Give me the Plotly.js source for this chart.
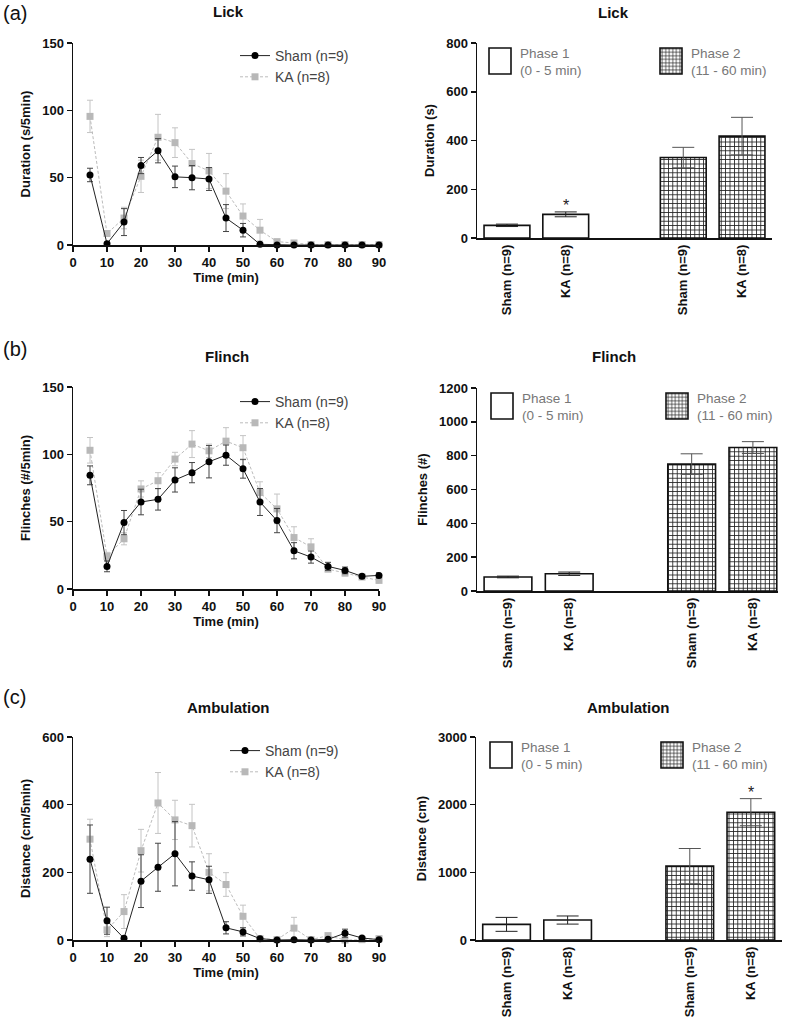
<!DOCTYPE html>
<html>
<head>
<meta charset="utf-8">
<script src="https://cdn.plot.ly/plotly-3.0.1.min.js"></script>
<style>
  body { margin: 0; background: #fff; }
  #fig { width: 787px; height: 1029px; }
</style>
</head>
<body>
<div id="fig"></div>
<script>
// time bins (min)
const time = [5, 10, 15, 20, 25, 30, 35, 40, 45, 50, 55, 60, 65, 70, 75, 80, 85, 90];

// (a) lick duration, s/5min (mean, sem)
const lickSham = [52, 1, 17, 59, 70, 50.6, 50, 49, 20, 11, 0.5, 0, 0, 0, 0, 0, 0, 0];
const lickShamErr = [5, 1, 10, 6, 9, 8, 9, 8.5, 10, 5, 0.5, 0, 0, 0, 0, 0, 0, 0];
const lickKA = [95.5, 8.5, 20, 51, 80, 76, 60.5, 55, 40, 21.5, 11, 2.5, 1.5, 0.3, 0.3, 0.3, 0.3, 0.3];
const lickKAErr = [12, 2, 8, 12, 17, 11, 10.5, 13, 13, 9, 8, 1, 1, 0, 0, 0, 0, 0];

// (b) flinches, #/5min
const flinchSham = [84.4, 16.8, 49.3, 64.6, 66.6, 81, 86.4, 94.5, 99.4, 89.3, 64.6, 50.8, 28.4, 23.7, 16.8, 13.8, 9.4, 10.1];
const flinchShamErr = [7, 4, 9, 9.5, 8, 9, 7.5, 12, 7.5, 7, 10, 9, 6, 4.5, 3, 2.5, 1, 2];
const flinchKA = [103, 24.2, 37.3, 74.3, 80.4, 96.5, 107.6, 102.6, 109.8, 104.9, 71.6, 59.5, 38.2, 31.3, 14.8, 11.8, 8.9, 6.4];
const flinchKAErr = [9.5, 3, 4.5, 6, 6, 5, 10, 5, 10, 9, 8, 11, 8, 6, 2, 2, 1, 2];

// (c) ambulation, cm/5min
const ambSham = [239, 57, 5, 174, 215, 255, 189, 178, 36, 24, 4, 0, 1, 0, 2, 20, 6, 1];
const ambShamErr = [101, 40, 5, 78, 71, 95, 42, 40, 18, 12, 3, 0, 1, 0, 2, 12, 3, 1];
const ambKA = [298, 30, 84, 264, 405, 355, 338, 200, 164, 70, 4, 1, 35, 1, 13, 0, 1, 4];
const ambKAErr = [59, 20, 50, 63, 90, 58, 63, 55, 35, 33, 3, 1, 32, 1, 6, 0, 1, 2];

// phase totals (bar charts)
const groupLabels = ['Sham (n=9)', 'KA (n=8)', 'Sham (n=9)', 'KA (n=8)'];
const groupPos = [0, 1, 3, 4];
const lickP1 = [52, 97], lickP1Err = [5, 10];
const lickP2 = [330, 418], lickP2Err = [42, 77];
const flinchP1 = [83, 102], flinchP1Err = [5, 10];
const flinchP2 = [750, 848], flinchP2Err = [61, 35];
const ambP1 = [231, 295], ambP1Err = [103, 60];
const ambP2 = [1092, 1889], ambP2Err = [260, 200];

const FONT = 'Liberation Sans, Arial, sans-serif';

function shamTrace(y, err, ax, leg) {
  return {
    x: time, y: y, xaxis: 'x' + ax, yaxis: 'y' + ax, legend: leg,
    name: 'Sham (n=9)', type: 'scatter', mode: 'lines+markers', cliponaxis: false,
    line: { color: '#222', width: 1 },
    marker: { symbol: 'circle', size: 7, color: '#000' },
    error_y: { type: 'data', array: err, color: '#444', thickness: 1, width: 3 }
  };
}

function kaTrace(y, err, ax, leg) {
  return {
    x: time, y: y, xaxis: 'x' + ax, yaxis: 'y' + ax, legend: leg,
    name: 'KA (n=8)', type: 'scatter', mode: 'lines+markers', cliponaxis: false,
    line: { color: '#bcbcbc', width: 1, dash: '3px,2px' },
    marker: { symbol: 'square', size: 7, color: '#b8b8b8' },
    error_y: { type: 'data', array: err, color: '#c4c4c4', thickness: 1, width: 3 }
  };
}

function phaseTraces(p1, p1Err, p2, p2Err, ax, leg1, leg2) {
  return [{
    x: groupPos.slice(0, 2), y: p1, xaxis: 'x' + ax, yaxis: 'y' + ax, legend: leg1,
    name: 'Phase 1<br>(0 - 5 min)', type: 'bar', width: 0.78,
    marker: { color: '#fff', line: { color: '#111', width: 1.6 } },
    error_y: { type: 'data', array: p1Err, color: '#222', thickness: 1, width: 11 }
  }, {
    x: groupPos.slice(2), y: p2, xaxis: 'x' + ax, yaxis: 'y' + ax, legend: leg2,
    name: 'Phase 2<br>(11 - 60 min)', type: 'bar', width: 0.78,
    marker: {
      color: '#fff', line: { color: '#111', width: 1.6 },
      pattern: { shape: '+', size: 4.4, solidity: 0.35, fgcolor: '#222', bgcolor: '#fff' }
    },
    error_y: { type: 'data', array: p2Err, color: '#555', thickness: 1, width: 11 }
  }];
}

const data = [
  kaTrace(lickKA, lickKAErr, '', 'legend'),
  shamTrace(lickSham, lickShamErr, '', 'legend'),
  ...phaseTraces(lickP1, lickP1Err, lickP2, lickP2Err, '2', 'legend2', 'legend7'),
  kaTrace(flinchKA, flinchKAErr, '3', 'legend3'),
  shamTrace(flinchSham, flinchShamErr, '3', 'legend3'),
  ...phaseTraces(flinchP1, flinchP1Err, flinchP2, flinchP2Err, '4', 'legend4', 'legend8'),
  kaTrace(ambKA, ambKAErr, '5', 'legend5'),
  shamTrace(ambSham, ambShamErr, '5', 'legend5'),
  ...phaseTraces(ambP1, ambP1Err, ambP2, ambP2Err, '6', 'legend6', 'legend9')
];

const tickFont = { family: FONT, size: 13, color: '#111', weight: 'bold' };
const titleFont = { family: FONT, size: 13, color: '#111', weight: 'bold' };

function timeAxis(domain, anchor) {
  return {
    domain: domain, anchor: anchor, range: [0, 90], dtick: 10, tick0: 0,
    showgrid: false, zeroline: false, showline: true, linecolor: '#111', linewidth: 1.5,
    ticks: 'outside', ticklen: 5, tickwidth: 1.5, tickcolor: '#111', tickfont: tickFont,
    title: { text: 'Time (min)', font: titleFont, standoff: 4 }
  };
}

function valueAxis(domain, anchor, range, dtick, label) {
  return {
    domain: domain, anchor: anchor, range: range, dtick: dtick,
    showgrid: false, zeroline: false, showline: true, linecolor: '#111', linewidth: 1.5,
    ticks: 'outside', ticklen: 5, tickwidth: 1.5, tickcolor: '#111', tickfont: tickFont,
    title: { text: label, font: titleFont, standoff: 8 }
  };
}

function groupAxis(domain, anchor, range) {
  return {
    domain: domain, anchor: anchor, range: range,
    tickmode: 'array', tickvals: groupPos, ticktext: groupLabels, tickangle: -90,
    showgrid: false, zeroline: false, showline: true, linecolor: '#111', linewidth: 1.5,
    ticks: '', tickfont: tickFont
  };
}

function lineLegend(x, y) {
  return {
    x: x, y: y, xanchor: 'left', yanchor: 'top', bgcolor: 'rgba(0,0,0,0)',
    traceorder: 'reversed', tracegroupgap: 0,
    font: { family: FONT, size: 14, color: '#444' }
  };
}

function barLegend(x, y) {
  return {
    x: x, y: y, xanchor: 'left', yanchor: 'top', bgcolor: 'rgba(0,0,0,0)',
    font: { family: FONT, size: 13.5, color: '#777' }
  };
}

function label(text, x, y, size, weight, anchor) {
  return {
    text: text, xref: 'paper', yref: 'paper', x: x, y: y,
    xanchor: anchor || 'center', yanchor: 'middle', showarrow: false,
    font: { family: FONT, size: size, color: '#111', weight: weight }
  };
}

function star(ax, x, y) {
  return {
    text: '*', xref: 'x' + ax, yref: 'y' + ax, x: x, y: y,
    yanchor: 'bottom', showarrow: false, yshift: -4,
    font: { family: FONT, size: 16, color: '#222' }
  };
}

const W = 787, H = 1029;
const px = v => v / W;
const py = v => 1 - v / H;

const layout = {
  width: W, height: H,
  margin: { l: 0, r: 0, t: 0, b: 0, autoexpand: false },
  paper_bgcolor: '#fff', plot_bgcolor: '#fff',
  font: { family: FONT },
  showlegend: true,
  bargap: 0,

  xaxis: timeAxis([px(73), px(379)], 'y'),
  yaxis: valueAxis([py(245), py(43)], 'x', [0, 150], 50, 'Duration (s/5min)'),
  xaxis2: groupAxis([px(477), px(772)], 'y2', [-0.51, 4.51]),
  yaxis2: valueAxis([py(238), py(43)], 'x2', [0, 800], 200, 'Duration (s)'),

  xaxis3: timeAxis([px(73), px(379)], 'y3'),
  yaxis3: valueAxis([py(589), py(387)], 'x3', [0, 150], 50, 'Flinches (#/5min)'),
  xaxis4: groupAxis([px(477), px(778)], 'y4', [-0.506, 4.41]),
  yaxis4: valueAxis([py(591), py(388)], 'x4', [0, 1200], 200, 'Flinches (#)'),

  xaxis5: timeAxis([px(73), px(379)], 'y5'),
  yaxis5: valueAxis([py(940), py(737)], 'x5', [0, 600], 200, 'Distance (cm/5min)'),
  xaxis6: groupAxis([px(476), px(782)], 'y6', [-0.5, 4.51]),
  yaxis6: valueAxis([py(940), py(737)], 'x6', [0, 3000], 1000, 'Distance (cm)'),

  legend: lineLegend(px(235), py(40)),
  legend3: lineLegend(px(235), py(386)),
  legend5: lineLegend(px(225), py(735)),
  legend2: barLegend(px(480), py(37)),
  legend7: barLegend(px(651), py(37)),
  legend4: barLegend(px(482), py(382)),
  legend8: barLegend(px(657), py(382)),
  legend6: barLegend(px(481), py(731)),
  legend9: barLegend(px(652), py(731)),

  annotations: [
    label('(a)', px(1), py(13), 20, 'normal', 'left'),
    label('(b)', px(1), py(349), 20, 'normal', 'left'),
    label('(c)', px(1), py(697), 20, 'normal', 'left'),
    label('Lick', px(228), py(12), 15, 'bold'),
    label('Lick', px(613), py(13), 15, 'bold'),
    label('Flinch', px(227), py(356), 15, 'bold'),
    label('Flinch', px(614), py(357), 15, 'bold'),
    label('Ambulation', px(228), py(707), 15, 'bold'),
    label('Ambulation', px(628), py(707), 15, 'bold'),
    star('2', groupPos[1], lickP1[1] + lickP1Err[1]),
    star('6', groupPos[3], ambP2[1] + ambP2Err[1])
  ]
};

// bigger legend boxes for the phase bars, like the original figure
function bigKeys() {
  document.querySelectorAll('.legendpoints path').forEach(p => {
    const d = (p.getAttribute('d') || '').replace(/\s/g, '');
    if (p.classList.contains('legendbar') || d === 'M6,6H-6V-6H6Z') {
      p.setAttribute('d', 'M11,13H-11V-13H11Z');
    }
  });
}

const gd = document.getElementById('fig');
Plotly.newPlot(gd, data, layout, { staticPlot: true }).then(() => {
  bigKeys();
  gd.on('plotly_afterplot', bigKeys);
  setTimeout(bigKeys, 50);
});
</script>
</body>
</html>
